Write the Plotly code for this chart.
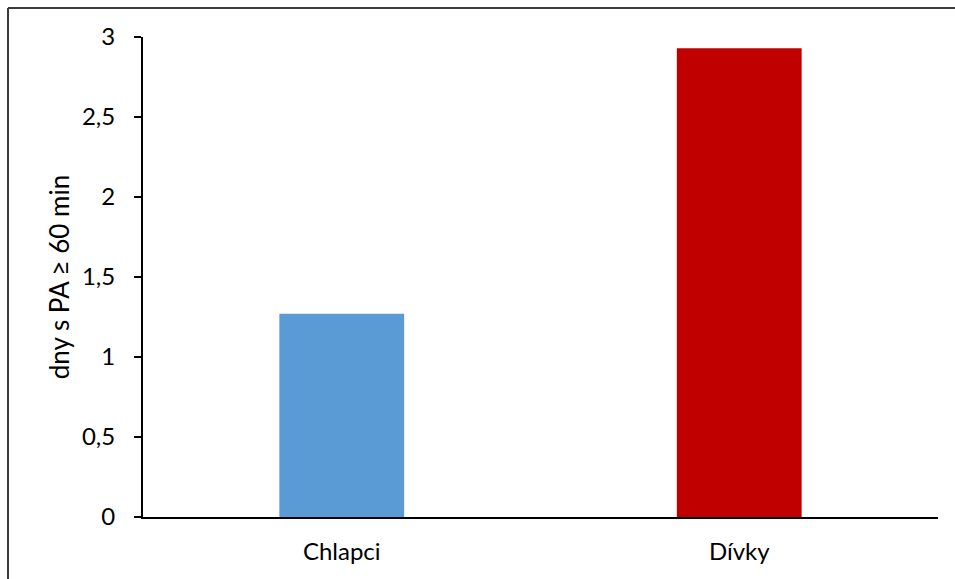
import plotly.graph_objects as go

categories = ["Chlapci", "Dívky"]
values = [1.27, 2.93]
colors = ["#5B9BD5", "#C00000"]
y_ticks = [0, 0.5, 1, 1.5, 2, 2.5, 3]
y_title = "dny s PA ≥ 60 min"

W, H = 955, 579
L, R, T, B = 143, 17, 37, 62
pw, ph = W - L - R, H - T - B


def px_to_paper_x(px):
    return (px - L) / pw


def px_to_paper_y(py):
    return (H - B - py) / ph


fig = go.Figure(
    go.Bar(
        x=categories,
        y=values,
        marker=dict(color=colors, line=dict(width=0)),
        width=0.314,
    )
)

family = "Lato, Carlito, Liberation Sans, sans-serif"
tick_font = dict(family=family, size=24, color="#000000")
title_font = dict(family=family, size=26, color="#000000")

fig.update_layout(
    width=W,
    height=H,
    margin=dict(l=L, r=R, t=T, b=B),
    paper_bgcolor="white",
    plot_bgcolor="white",
    separators=", ",
    font=tick_font,
    showlegend=False,
    xaxis=dict(
        showline=True,
        linecolor="black",
        linewidth=2,
        ticks="",
        showgrid=False,
        ticklabelstandoff=12,
        tickfont=tick_font,
    ),
    yaxis=dict(
        range=[0, 3],
        tickvals=y_ticks,
        showline=True,
        linecolor="black",
        linewidth=2,
        ticks="outside",
        ticklen=7,
        tickwidth=2,
        tickcolor="black",
        showgrid=False,
        zeroline=False,
        ticklabelstandoff=14,
        tickfont=tick_font,
        title=dict(text=y_title, font=title_font, standoff=5),
    ),
    shapes=[
        # outer frame: left edge and top edge
        dict(type="line", xref="paper", yref="paper",
             x0=px_to_paper_x(8), x1=px_to_paper_x(8),
             y0=px_to_paper_y(8), y1=px_to_paper_y(H + 5),
             line=dict(color="#3a3a3a", width=2)),
        dict(type="line", xref="paper", yref="paper",
             x0=px_to_paper_x(8), x1=px_to_paper_x(W + 5),
             y0=px_to_paper_y(8), y1=px_to_paper_y(8),
             line=dict(color="#3a3a3a", width=2)),
    ],
)

fig.write_html("out.html")
